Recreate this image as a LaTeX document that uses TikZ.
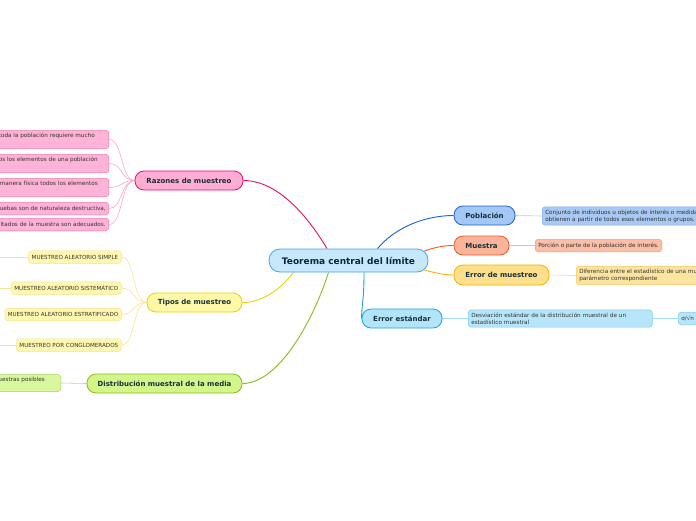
\documentclass[tikz,border=0pt]{standalone}
\usepackage{fontspec}
\setmainfont{DejaVu Sans}
\usetikzlibrary{backgrounds}

\definecolor{cenfill}{HTML}{C6E8FA}
\definecolor{cenline}{HTML}{4AA3DF}
\definecolor{cennavy}{HTML}{0B2447}
\definecolor{txtdark}{HTML}{16303C}
\definecolor{txtgray}{HTML}{333333}
\definecolor{razfill}{HTML}{FFADD2}
\definecolor{razline}{HTML}{E8106E}
\definecolor{razleaf}{HTML}{FFB3D6}
\definecolor{razedge}{HTML}{F67BB2}
\definecolor{raztwig}{HTML}{F9A5CB}
\definecolor{tipfill}{HTML}{FFF8A6}
\definecolor{tipline}{HTML}{ECD400}
\definecolor{tipleaf}{HTML}{FFF8B0}
\definecolor{tipedge}{HTML}{F2E38A}
\definecolor{tiptwig}{HTML}{F7E58F}
\definecolor{disfill}{HTML}{D4F58A}
\definecolor{disline}{HTML}{86BD1A}
\definecolor{disleaf}{HTML}{D9F79C}
\definecolor{disedge}{HTML}{A9D35F}
\definecolor{distwig}{HTML}{B8DD7A}
\definecolor{pobfill}{HTML}{A4C8F6}
\definecolor{pobline}{HTML}{1961D4}
\definecolor{pobleaf}{HTML}{A9C9F4}
\definecolor{pobedge}{HTML}{7EB0EF}
\definecolor{pobtwig}{HTML}{A9CBF5}
\definecolor{musfill}{HTML}{F9B49A}
\definecolor{musline}{HTML}{EC5A2A}
\definecolor{musleaf}{HTML}{FBBEA7}
\definecolor{musedge}{HTML}{F49B7A}
\definecolor{mustwig}{HTML}{F8B5A0}
\definecolor{errfill}{HTML}{FDDF8C}
\definecolor{errline}{HTML}{F3B300}
\definecolor{errleaf}{HTML}{FDE4A0}
\definecolor{erredge}{HTML}{F6C860}
\definecolor{errtwig}{HTML}{FBD98A}
\definecolor{estfill}{HTML}{B3E5FA}
\definecolor{estline}{HTML}{1AA3DD}
\definecolor{estleaf}{HTML}{B7E6FA}
\definecolor{estedge}{HTML}{7DCBEF}
\definecolor{esttwig}{HTML}{A3DCF6}

\begin{document}
\begin{tikzpicture}[x=1pt,y=-1pt,
    topic/.style={draw,line width=0.8pt,rounded corners=9pt,minimum height=19pt,inner xsep=4pt,inner ysep=0pt,font=\bfseries\fontsize{7}{8}\selectfont,text=txtdark},
    leaf/.style={draw,line width=0.5pt,rounded corners=3pt,inner xsep=3pt,inner ysep=2.8pt,minimum height=12.5pt,align=left,font=\fontsize{5.7}{7}\selectfont,text=txtgray},
    caps/.style={leaf,fill=tipleaf,draw=tipedge,anchor=east,align=center,font=\fontsize{5.6}{6}\selectfont},
    link/.style={line width=0.9pt},
    twig/.style={line width=0.6pt}]
  \useasboundingbox (0,0) rectangle (696,520);

  \node[topic,minimum width=159pt,minimum height=23pt,rounded corners=11pt,fill=cenfill,draw=cenline,font=\bfseries\fontsize{9}{10}\selectfont,text=cennavy] (cen) at (348.5,260.5) {Teorema central del límite};

  \node[topic,minimum width=108pt,fill=razfill,draw=razline] (raz) at (189,180.5) {Razones de muestreo};
  \node[topic,minimum width=95pt,fill=tipfill,draw=tipline] (tip) at (194.5,302.5) {Tipos de muestreo};
  \node[topic,minimum width=155pt,fill=disfill,draw=disline] (dis) at (164.5,383.5) {Distribución muestral de la media};
  \node[topic,minimum width=61pt,fill=pobfill,draw=pobline] (pob) at (484.5,215.5) {Población};
  \node[topic,minimum width=55pt,fill=musfill,draw=musline] (mus) at (481.5,245.5) {Muestra};
  \node[topic,minimum width=95pt,minimum height=20pt,fill=errfill,draw=errline] (err) at (501.5,275) {Error de muestreo};
  \node[topic,minimum width=80pt,fill=estfill,draw=estline] (est) at (402,318.5) {Error estándar};

  \node[leaf,fill=pobleaf,draw=pobedge,anchor=west] (pobd) at (542,216) {Conjunto de individuos u objetos de interés o medidas que se\\obtienen a partir de todos esos elementos o grupos.};
  \node[leaf,fill=musleaf,draw=musedge,anchor=west] (musd) at (535,245.5) {Porción o parte de la población de interés.};
  \node[leaf,fill=errleaf,draw=erredge,anchor=west] (errd) at (576,275.5) {Diferencia entre el estadístico de una muestra y el\\parámetro correspondiente};
  \node[leaf,fill=estleaf,draw=estedge,anchor=west,text width=178pt] (estd) at (468,318.5) {Desviación estándar de la distribución muestral de un\\estadístico muestral};
  \node[leaf,fill=estleaf,draw=estedge,anchor=west] (form) at (678,318.5) {σ/√n};

  \node[leaf,fill=razleaf,draw=razedge,anchor=east] (raz1) at (109,139.5) {Contactar a toda la población requiere mucho\hspace*{11pt}\\tiempo.};
  \node[leaf,fill=razleaf,draw=razedge,anchor=east] (raz2) at (109,163.5) {El costo de estudiar todos los elementos de una población\hspace*{8pt}\\puede ser muy alto.};
  \node[leaf,fill=razleaf,draw=razedge,anchor=east] (raz3) at (109,187.5) {Es imposible revisar de manera física todos los elementos\hspace*{8pt}\\de la población.};
  \node[leaf,fill=razleaf,draw=razedge,anchor=east] (raz4) at (109,208.5) {Algunas pruebas son de naturaleza destructiva,};
  \node[leaf,fill=razleaf,draw=razedge,anchor=east] (raz5) at (109,224.5) {Los resultados de la muestra son adecuados.};

  \node[caps] (tip1) at (121.5,257) {MUESTREO ALEATORIO SIMPLE};
  \node[caps] (tip2) at (121.5,288) {MUESTREO ALEATORIO SISTEMÁTICO};
  \node[caps] (tip3) at (121.5,314.5) {MUESTREO ALEATORIO ESTRATIFICADO};
  \node[caps] (tip4) at (121.5,345) {MUESTREO POR CONGLOMERADOS};
  \coordinate (tip1x) at (-30,257);
  \coordinate (tip2x) at (-30,288);
  \coordinate (tip4x) at (-30,345);

  \node[leaf,fill=disleaf,draw=disedge,anchor=east] (dis1) at (61,383) {Todas las medias de las muestras posibles\hspace*{13pt}\\de un tamaño dado};

  \begin{scope}[on background layer]
    \fill[white] (0,0) rectangle (696,520);
    \draw[link,razline] ([xshift=-21.5pt]cen.north) .. controls +(-22,-37) and +(32,0) .. (raz.east);
    \draw[link,tipline] ([xshift=-55pt]cen.south) .. controls +(-10,13) and +(23,0) .. (tip.east);
    \draw[link,disline] ([xshift=-20pt]cen.south) .. controls +(-13.5,43) and +(38,0) .. (dis.east);
    \draw[link,pobline] ([xshift=29pt]cen.north) .. controls +(17.5,-21) and +(-29,0) .. (pob.west);
    \draw[link,musline] ([xshift=-4pt,yshift=9.5pt]cen.east) .. controls +(11,-4) and +(-9,0) .. (mus.west);
    \draw[link,errline] ([xshift=-4pt,yshift=-9.5pt]cen.east) .. controls +(11,3) and +(-9,0) .. (err.west);
    \draw[link,estline] ([xshift=15.5pt]cen.south) .. controls +(0,30) and +(0,-15) .. (est.west);

    \draw[twig,pobtwig] (pob.east) -- (pobd.west);
    \draw[twig,mustwig] (mus.east) -- (musd.west);
    \draw[twig,errtwig] (err.east) -- (errd.west);
    \draw[twig,esttwig] (est.east) -- (estd.west);
    \draw[twig,esttwig] (estd.east) -- (form.west);
    \foreach \n in {raz1,raz2,raz3,raz4,raz5}
      \draw[twig,raztwig] (\n.east) .. controls +(14,0) and +(-14,0) .. (raz.west);
    \foreach \n in {tip1,tip2,tip3,tip4}
      \draw[twig,tiptwig] (\n.east) .. controls +(14,0) and +(-14,0) .. (tip.west);
    \foreach \n in {tip1,tip2,tip4}
      \draw[twig,tiptwig] (\n.west) -- (\n x);
    \draw[twig,distwig] (dis1.east) -- (dis.west);
  \end{scope}
\end{tikzpicture}
\end{document}
